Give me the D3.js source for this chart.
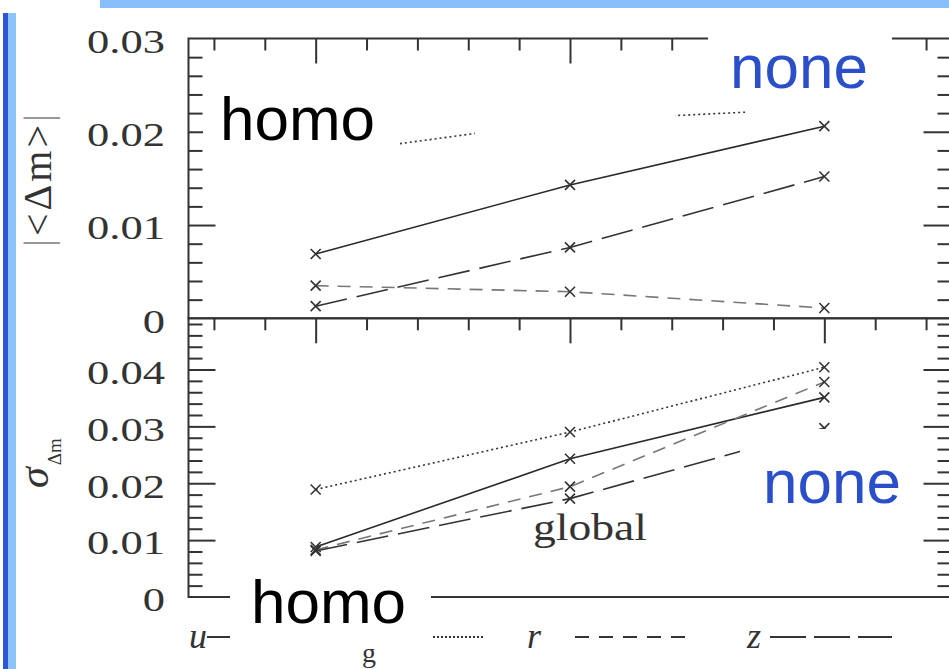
<!DOCTYPE html>
<html>
<head>
<meta charset="utf-8">
<script src="https://cdn.jsdelivr.net/npm/d3@7/dist/d3.min.js"></script>
<style>
  html, body { margin: 0; padding: 0; background: #fff; }
  svg { display: block; }
</style>
</head>
<body>
<svg id="chart" width="949" height="669"></svg>
<script>
// x positions of the three runs, and the photometric bands drawn as series
const positions = [1, 2, 3];
const bands = ["u", "g", "r", "z"];

// |<Δm>| per band (upper panel)
const meanU = [0.0069, 0.0143, 0.0206];
const meanG = [0.0175, 0.0212, 0.0225];
const meanR = [0.0035, 0.00285, 0.0011];
const meanZ = [0.0013, 0.0076, 0.0152];

// σ_Δm per band (lower panel)
const sigU = [0.0088, 0.0243, 0.0351];
const sigG = [0.0189, 0.0290, 0.0404];
const sigR = [0.0083, 0.0194, 0.0378];
const sigZ = [0.0081, 0.0173, 0.0297];

// tick labels
const topTickLabels = ["0", "0.01", "0.02", "0.03"];
const botTickLabels = ["0", "0.01", "0.02", "0.03", "0.04"];

const svg = d3.select("#chart");
const ink = "#333";

// slide decorations
svg.append("rect").attr("x", 100).attr("y", 0).attr("width", 849).attr("height", 8).attr("fill", "#86bffa");
svg.append("rect").attr("x", 3).attr("y", 13).attr("width", 5).attr("height", 656).attr("fill", "#2e55d6");
svg.append("rect").attr("x", 8).attr("y", 13).attr("width", 8).attr("height", 656).attr("fill", "#8cc4f8");

// scales
const x = d3.scaleLinear().domain([0.5, 3.5]).range([188.5, 951.5]);
const yTop = d3.scaleLinear().domain([0, 0.03]).range([318.3, 38.5]);
const yBot = d3.scaleLinear().domain([0, 0.049]).range([597, 318.3]);

const L = x.range()[0], R = x.range()[1];

// frames
const frame = svg.append("g").attr("stroke", ink).attr("stroke-width", 2).attr("fill", "none");
frame.append("rect").attr("x", L).attr("y", yTop.range()[1]).attr("width", R - L).attr("height", yTop.range()[0] - yTop.range()[1]);
frame.append("rect").attr("x", L).attr("y", yBot.range()[1]).attr("width", R - L).attr("height", yBot.range()[0] - yBot.range()[1]);

// tick helpers
function styleAxis(g) {
  g.select(".domain").remove();
  g.selectAll("line").attr("stroke", ink).attr("stroke-width", 2);
  g.selectAll("text").remove();
}
const xMinor = d3.range(3, 18).filter(i => i % 5 !== 0).map(i => i * 0.2);
const xMajor = positions;

function yMinor(n) { return d3.range(1, n).filter(i => i % 5 !== 0).map(i => i * 0.002); }

function panelTicks(y, minorVals, majorVals) {
  const top = y.range()[1];
  svg.append("g").attr("transform", `translate(0,${top})`)
    .call(d3.axisTop(x).tickValues(xMinor).tickSize(-12)).call(styleAxis);
  svg.append("g").attr("transform", `translate(0,${top})`)
    .call(d3.axisTop(x).tickValues(xMajor).tickSize(-25)).call(styleAxis);
  svg.append("g").attr("transform", `translate(${L},0)`)
    .call(d3.axisLeft(y).tickValues(minorVals).tickSize(-14)).call(styleAxis);
  svg.append("g").attr("transform", `translate(${L},0)`)
    .call(d3.axisLeft(y).tickValues(majorVals).tickSize(-27)).call(styleAxis);
  svg.append("g").attr("transform", `translate(${R},0)`)
    .call(d3.axisRight(y).tickValues(minorVals).tickSize(-14)).call(styleAxis);
  svg.append("g").attr("transform", `translate(${R},0)`)
    .call(d3.axisRight(y).tickValues(majorVals).tickSize(-28)).call(styleAxis);
}
panelTicks(yTop, yMinor(15), [0.01, 0.02]);
panelTicks(yBot, yMinor(25), [0.01, 0.02, 0.03, 0.04]);

// tick labels
function tickLabels(y, labels) {
  svg.append("g").selectAll("text").data(labels).join("text")
    .attr("transform", d => `translate(165,${y(+d) + 3}) scale(1.35,1)`)
    .attr("text-anchor", "end")
    .attr("dominant-baseline", "central")
    .attr("font-family", "Liberation Serif, serif")
    .attr("font-size", 33)
    .attr("fill", ink)
    .text(d => d);
}
tickLabels(yTop, topTickLabels);
tickLabels(yBot, botTickLabels);

// axis titles
const t1 = svg.append("text")
  .attr("transform", "translate(51,179) rotate(-90)")
  .attr("text-anchor", "middle")
  .attr("font-family", "Liberation Serif, serif")
  .attr("font-size", 40)
  .attr("letter-spacing", 3)
  .attr("fill", ink);
t1.append("tspan").attr("fill", "#999").text("|");
t1.append("tspan").text("<Δm>");
t1.append("tspan").attr("fill", "#999").text("|");

const t2 = svg.append("text")
  .attr("transform", "translate(48,488) rotate(-90)")
  .attr("font-family", "Liberation Serif, serif")
  .attr("fill", ink);
t2.append("tspan").attr("font-size", 42).attr("font-style", "italic").text("σ");
t2.append("tspan").attr("font-size", 19).attr("dx", 2).attr("dy", 13).text("Δm");

// series styles
const styles = {
  u: { dash: null, color: "#2a2a2a" },
  g: { dash: "2,3", color: "#333" },
  r: { dash: "13,9", color: "#777" },
  z: { dash: "32,10", color: "#333" }
};
const topSeries = { u: meanU, g: meanG, r: meanR, z: meanZ };
const botSeries = { u: sigU, g: sigG, r: sigR, z: sigZ };

function drawSeries(y, series) {
  const line = d3.line().x((d, i) => x(positions[i])).y(d => y(d));
  bands.forEach(b => {
    const s = styles[b];
    svg.append("path").datum(series[b])
      .attr("d", line)
      .attr("fill", "none")
      .attr("stroke", s.color)
      .attr("stroke-width", 1.6)
      .attr("stroke-dasharray", s.dash);
    svg.append("g").selectAll("path").data(series[b]).join("path")
      .attr("d", (d, i) => {
        const cx = x(positions[i]), cy = y(d), r = 5;
        return `M${cx - r},${cy - r}L${cx + r},${cy + r}M${cx - r},${cy + r}L${cx + r},${cy - r}`;
      })
      .attr("stroke", "#333")
      .attr("stroke-width", 1.6);
  });
}
drawSeries(yTop, topSeries);
drawSeries(yBot, botSeries);

// in-panel label
svg.append("text")
  .attr("transform", "translate(533,540) scale(1.2,1)")
  .attr("font-family", "Liberation Serif, serif")
  .attr("font-size", 38)
  .attr("fill", ink)
  .text("global");

// band legend below the lower panel
const legY = 637, legBase = 648;
const legendItems = [
  { band: "u", tx: 189, ty: legBase, fs: 36, x0: 207, x1: 252 },
  { band: "g", tx: 362, ty: 662, fs: 28, x0: 433, x1: 483 },
  { band: "r", tx: 527, ty: legBase, fs: 36, x0: 575, x1: 695 },
  { band: "z", tx: 747, ty: legBase, fs: 36, x0: 770, x1: 892 }
];
legendItems.forEach(it => {
  svg.append("text")
    .attr("x", it.tx).attr("y", it.ty)
    .attr("font-family", "Liberation Serif, serif")
    .attr("font-style", it.band === "g" ? "normal" : "italic")
    .attr("font-size", it.fs)
    .attr("fill", ink)
    .text(it.band);
  svg.append("line")
    .attr("x1", it.x0).attr("x2", it.x1).attr("y1", legY).attr("y2", legY)
    .attr("stroke", "#333").attr("stroke-width", 1.8)
    .attr("stroke-dasharray", it.band === "u" ? null : it.band === "g" ? "2,2" : it.band === "r" ? "14,10" : "36,8");
});

// white backgrounds of the overlaid annotation boxes
const boxes = [
  [203, 66, 197, 97],
  [475, 95, 200, 50],
  [708, 26, 184, 74],
  [745, 100, 90, 18],
  [230, 570, 201, 79],
  [740, 429, 165, 90]
];
svg.append("g").selectAll("rect").data(boxes).join("rect")
  .attr("x", d => d[0]).attr("y", d => d[1])
  .attr("width", d => d[2]).attr("height", d => d[3])
  .attr("fill", "#fff");

// annotations
const notes = [
  { t: "homo", x: 220, y: 140, c: "#000" },
  { t: "homo", x: 251, y: 623, c: "#000" },
  { t: "none", x: 730, y: 88, c: "#2a4fc8" },
  { t: "none", x: 763, y: 503, c: "#2a4fc8" }
];
svg.append("g").selectAll("text").data(notes).join("text")
  .attr("x", d => d.x).attr("y", d => d.y)
  .attr("font-family", "Liberation Sans, Arial, sans-serif")
  .attr("font-size", 62)
  .attr("fill", d => d.c)
  .text(d => d.t);
</script>
</body>
</html>
